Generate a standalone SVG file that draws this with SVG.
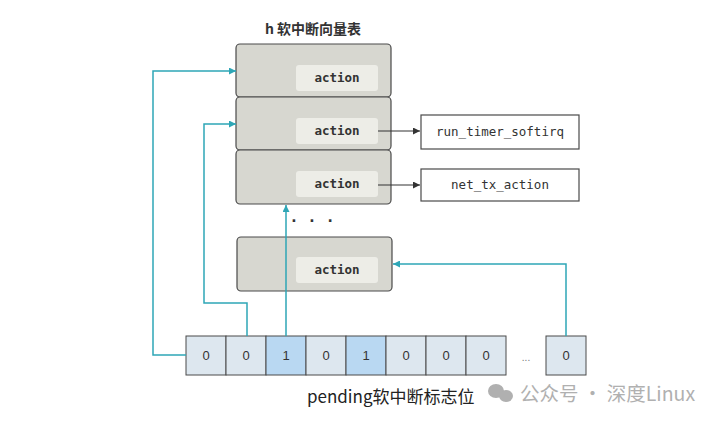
<svg xmlns="http://www.w3.org/2000/svg" width="720" height="422" viewBox="0 0 720 422">
<style>
.vec{fill:#d7d7d0;stroke:#4a4a4a;stroke-width:1.2}
.act{fill:#ededE7}
.acttxt{font-family:"DejaVu Sans Mono","Liberation Mono",monospace;font-size:12.5px;font-weight:bold;fill:#333;text-anchor:middle}
.fn{fill:#fff;stroke:#4a4a4a;stroke-width:1.2}
.fntxt{font-family:"DejaVu Sans Mono","Liberation Mono",monospace;font-size:12.5px;fill:#333;text-anchor:middle}
.bit{fill:#dde7ef;stroke:#4a4a4a;stroke-width:1}
.bit1{fill:#b9d8f2;stroke:#4a4a4a;stroke-width:1}
.bittxt{font-family:"Liberation Sans",Arial,sans-serif;font-size:13px;fill:#333;text-anchor:middle}
.teal{fill:none;stroke:#2ea6b6;stroke-width:1.5}
.dark{fill:none;stroke:#333;stroke-width:1.2}
</style>
<defs>
<marker id="ta" viewBox="0 0 10 10" refX="10" refY="5" markerWidth="9" markerHeight="7" orient="auto" markerUnits="userSpaceOnUse"><path d="M0,0 L10,5 L0,10 z" fill="#2ea6b6"/></marker>
<marker id="da" viewBox="0 0 10 10" refX="10" refY="5" markerWidth="10" markerHeight="7" orient="auto" markerUnits="userSpaceOnUse"><path d="M0,0 L10,5 L0,10 z" fill="#333"/></marker>
</defs>
<rect width="720" height="422" fill="#fff"/>
<text x="313" y="34" font-family="'Noto Sans CJK SC','DejaVu Sans',sans-serif" font-size="14" font-weight="bold" fill="#333" text-anchor="middle">h 软中断向量表</text>

<g id="vec0"><rect class="vec" x="236" y="44" width="155" height="53" rx="4"/><rect class="act" x="296" y="65" width="82" height="26" rx="3"/><text class="acttxt" x="337" y="82">action</text></g>
<g id="vec1"><rect class="vec" x="236" y="97" width="155" height="53" rx="4"/><rect class="act" x="296" y="118" width="82" height="26" rx="3"/><text class="acttxt" x="337" y="135">action</text></g>
<g id="vec2"><rect class="vec" x="236" y="150" width="155" height="54" rx="4"/><rect class="act" x="296" y="171" width="82" height="26" rx="3"/><text class="acttxt" x="337" y="188">action</text></g>
<g id="dots"><text x="314" y="226" font-family="'DejaVu Sans',sans-serif" font-size="14" font-weight="bold" fill="#333" text-anchor="middle" letter-spacing="4">· · ·</text></g>
<g id="vecN"><rect class="vec" x="237" y="237" width="155" height="54" rx="4"/><rect class="act" x="296" y="257" width="82" height="26" rx="3"/><text class="acttxt" x="337" y="274">action</text></g>

<g id="fn1"><rect class="fn" x="421" y="115" width="158" height="34"/><text class="fntxt" x="500" y="136">run_timer_softirq</text></g>
<g id="fn2"><rect class="fn" x="421" y="169" width="158" height="32"/><text class="fntxt" x="500" y="189">net_tx_action</text></g>

<g id="bits">
<rect class="bit" x="186" y="336" width="40" height="39"/><text class="bittxt" x="206" y="360">0</text>
<rect class="bit" x="226" y="336" width="40" height="39"/><text class="bittxt" x="246" y="360">0</text>
<rect class="bit1" x="266" y="336" width="40" height="39"/><text class="bittxt" x="286" y="360">1</text>
<rect class="bit" x="306" y="336" width="40" height="39"/><text class="bittxt" x="326" y="360">0</text>
<rect class="bit1" x="346" y="336" width="40" height="39"/><text class="bittxt" x="366" y="360">1</text>
<rect class="bit" x="386" y="336" width="40" height="39"/><text class="bittxt" x="406" y="360">0</text>
<rect class="bit" x="426" y="336" width="40" height="39"/><text class="bittxt" x="446" y="360">0</text>
<rect class="bit" x="466" y="336" width="40" height="39"/><text class="bittxt" x="486" y="360">0</text>
<text x="526" y="361" font-family="'Liberation Sans',sans-serif" font-size="10" fill="#777" text-anchor="middle">...</text>
<rect class="bit" x="546" y="336" width="40" height="39"/><text class="bittxt" x="566" y="360">0</text>
</g>

<g id="connectors">
<path class="teal" d="M186,355 H153 V71 H236" marker-end="url(#ta)"/>
<path class="teal" d="M247,336 V303 H204 V124 H236" marker-end="url(#ta)"/>
<path class="teal" d="M286,336 V205" marker-end="url(#ta)"/>
<path class="teal" d="M566,336 V264 H393" marker-end="url(#ta)"/>
<path class="dark" d="M378,131 H420" marker-end="url(#da)"/>
<path class="dark" d="M378,185 H420" marker-end="url(#da)"/>
</g>

<text x="307" y="403" font-family="'Noto Sans CJK SC','DejaVu Sans',sans-serif" font-size="17" fill="#222">pending软中断标志位</text>

<g id="watermark" fill="#b0b0b0">
<ellipse cx="496" cy="391" rx="8" ry="7"/>
<ellipse cx="506" cy="396" rx="7" ry="6"/>
<text x="520" y="401" font-family="'Noto Sans CJK SC','DejaVu Sans',sans-serif" font-size="19.5">公众号 · 深度Linux</text>
</g>
</svg>
